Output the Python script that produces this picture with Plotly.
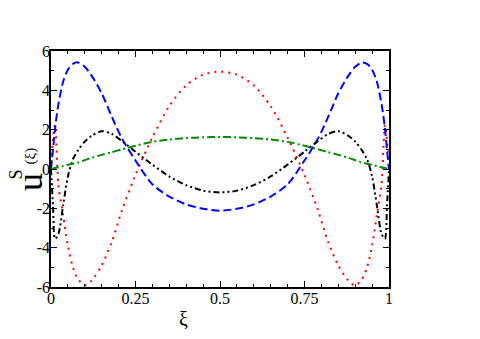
import plotly.graph_objects as go

# mode shapes
xi = [0, 0.006, 0.012, 0.022, 0.036, 0.05, 0.065, 0.08, 0.1, 0.12, 0.15, 0.18, 0.21, 0.25,
      0.3, 0.35, 0.4, 0.45, 0.5, 0.55, 0.6, 0.65, 0.7, 0.75, 0.79, 0.82, 0.85, 0.88, 0.9,
      0.92, 0.935, 0.95, 0.964, 0.978, 0.988, 0.994, 1.0]

u_red = [0, 1.5, 2.24, -0.8, -2.34, -3.9, -5.0, -5.6, -5.92, -5.68, -4.9, -3.7, -2.1, -0.3,
         1.6, 3.2, 4.25, 4.8, 4.95, 4.8, 4.25, 3.2, 1.6, -0.3, -2.1, -3.7, -4.9, -5.68, -5.92,
         -5.6, -5.0, -3.9, -2.34, -0.8, 2.24, 1.5, 0]

u_blue = [0, 1.0, 2.07, 3.3, 4.45, 5.05, 5.35, 5.42, 5.2, 4.75, 3.85, 2.65, 1.55, 0.43,
          -0.78, -1.4, -1.8, -2.02, -2.12, -2.02, -1.8, -1.4, -0.78, 0.43, 1.55, 2.65, 3.85,
          4.75, 5.2, 5.42, 5.35, 5.05, 4.45, 3.3, 2.07, 1.0, 0]

u_black = [0, -1.9, -3.55, -3.3, -1.83, -0.38, 0.5, 0.95, 1.39, 1.68, 1.92, 1.78, 1.42, 0.88,
           0.22, -0.38, -0.82, -1.1, -1.19, -1.1, -0.82, -0.38, 0.22, 0.88, 1.42, 1.78, 1.92,
           1.68, 1.39, 0.95, 0.5, -0.38, -1.83, -3.3, -3.55, -1.9, 0]

u_green = [0, 0.02, 0.05, 0.09, 0.15, 0.21, 0.27, 0.33, 0.45, 0.57, 0.72, 0.86, 1.0, 1.18,
           1.38, 1.5, 1.57, 1.61, 1.63, 1.61, 1.57, 1.5, 1.38, 1.18, 1.0, 0.86, 0.72, 0.57,
           0.45, 0.33, 0.27, 0.21, 0.15, 0.09, 0.05, 0.02, 0]

x_ticks = [0, 0.25, 0.5, 0.75, 1]
x_labels = ["0", "0.25", "0.5", "0.75", "1"]
y_ticks = [-6, -4, -2, 0, 2, 4, 6]
y_labels = ["-6", "-4", "-2", "0", "2", "4", "6"]

serif = "Liberation Serif, Times New Roman, serif"

series = [
    (u_red, "#ff0000", "2px,5px"),
    (u_blue, "#0000ff", "8px,4px"),
    (u_black, "#000000", "6px,3px,2px,3px,2px,3px"),
    (u_green, "#008b00", "8px,3px,2px,3px"),
]

fig = go.Figure()
for vals, col, dash in series:
    fig.add_trace(go.Scatter(
        x=xi, y=vals, mode="lines",
        line=dict(color=col, width=2, dash=dash, shape="spline", smoothing=0.8),
        showlegend=False, hoverinfo="skip"))

axis_common = dict(
    showgrid=False, zeroline=False, showline=True, linecolor="black", linewidth=1.5,
    mirror="ticks", ticks="inside", ticklen=6, tickwidth=1, tickcolor="black",
    tickfont=dict(family=serif, size=16, color="black"), ticklabelstandoff=-4,
)

fig.update_xaxes(range=[0, 1], tickvals=x_ticks, ticktext=x_labels,
                 minor=dict(dtick=0.05, ticks="inside", ticklen=3, tickcolor="black"),
                 **axis_common)
fig.update_yaxes(range=[-6, 6], tickvals=y_ticks, ticktext=y_labels,
                 minor=dict(dtick=1, ticks="inside", ticklen=3, tickcolor="black"),
                 **axis_common)

# page body adds 8px, so the plot frame sits at 51..389 x 51..287 on screen
def px_to_paper(px, py):
    return (px - 51) / 338, (287 - py) / 236

# y label pieces: u, superscript S, (ξ)
labels = [
    ("u", 36, 29.5, 181.5),
    ("S", 18, 15.5, 175),
    ("(ξ)", 15, 30, 156.5),
]
for txt, size, px, py in labels:
    ax, ay = px_to_paper(px, py)
    fig.add_annotation(text=txt, x=ax, y=ay, xref="paper", yref="paper",
                       xanchor="center", yanchor="middle", textangle=-90,
                       borderpad=0, showarrow=False,
                       font=dict(family=serif, size=size, color="black"))

ax, ay = px_to_paper(183, 319)
fig.add_annotation(text="ξ", x=ax, y=ay, xref="paper", yref="paper",
                   xanchor="center", yanchor="middle", showarrow=False,
                   font=dict(family=serif, size=20, color="black"))

fig.update_layout(
    width=480, height=339,
    margin=dict(l=43, r=99, t=43, b=60),
    plot_bgcolor="white", paper_bgcolor="white",
)

fig.write_html("out.html")
